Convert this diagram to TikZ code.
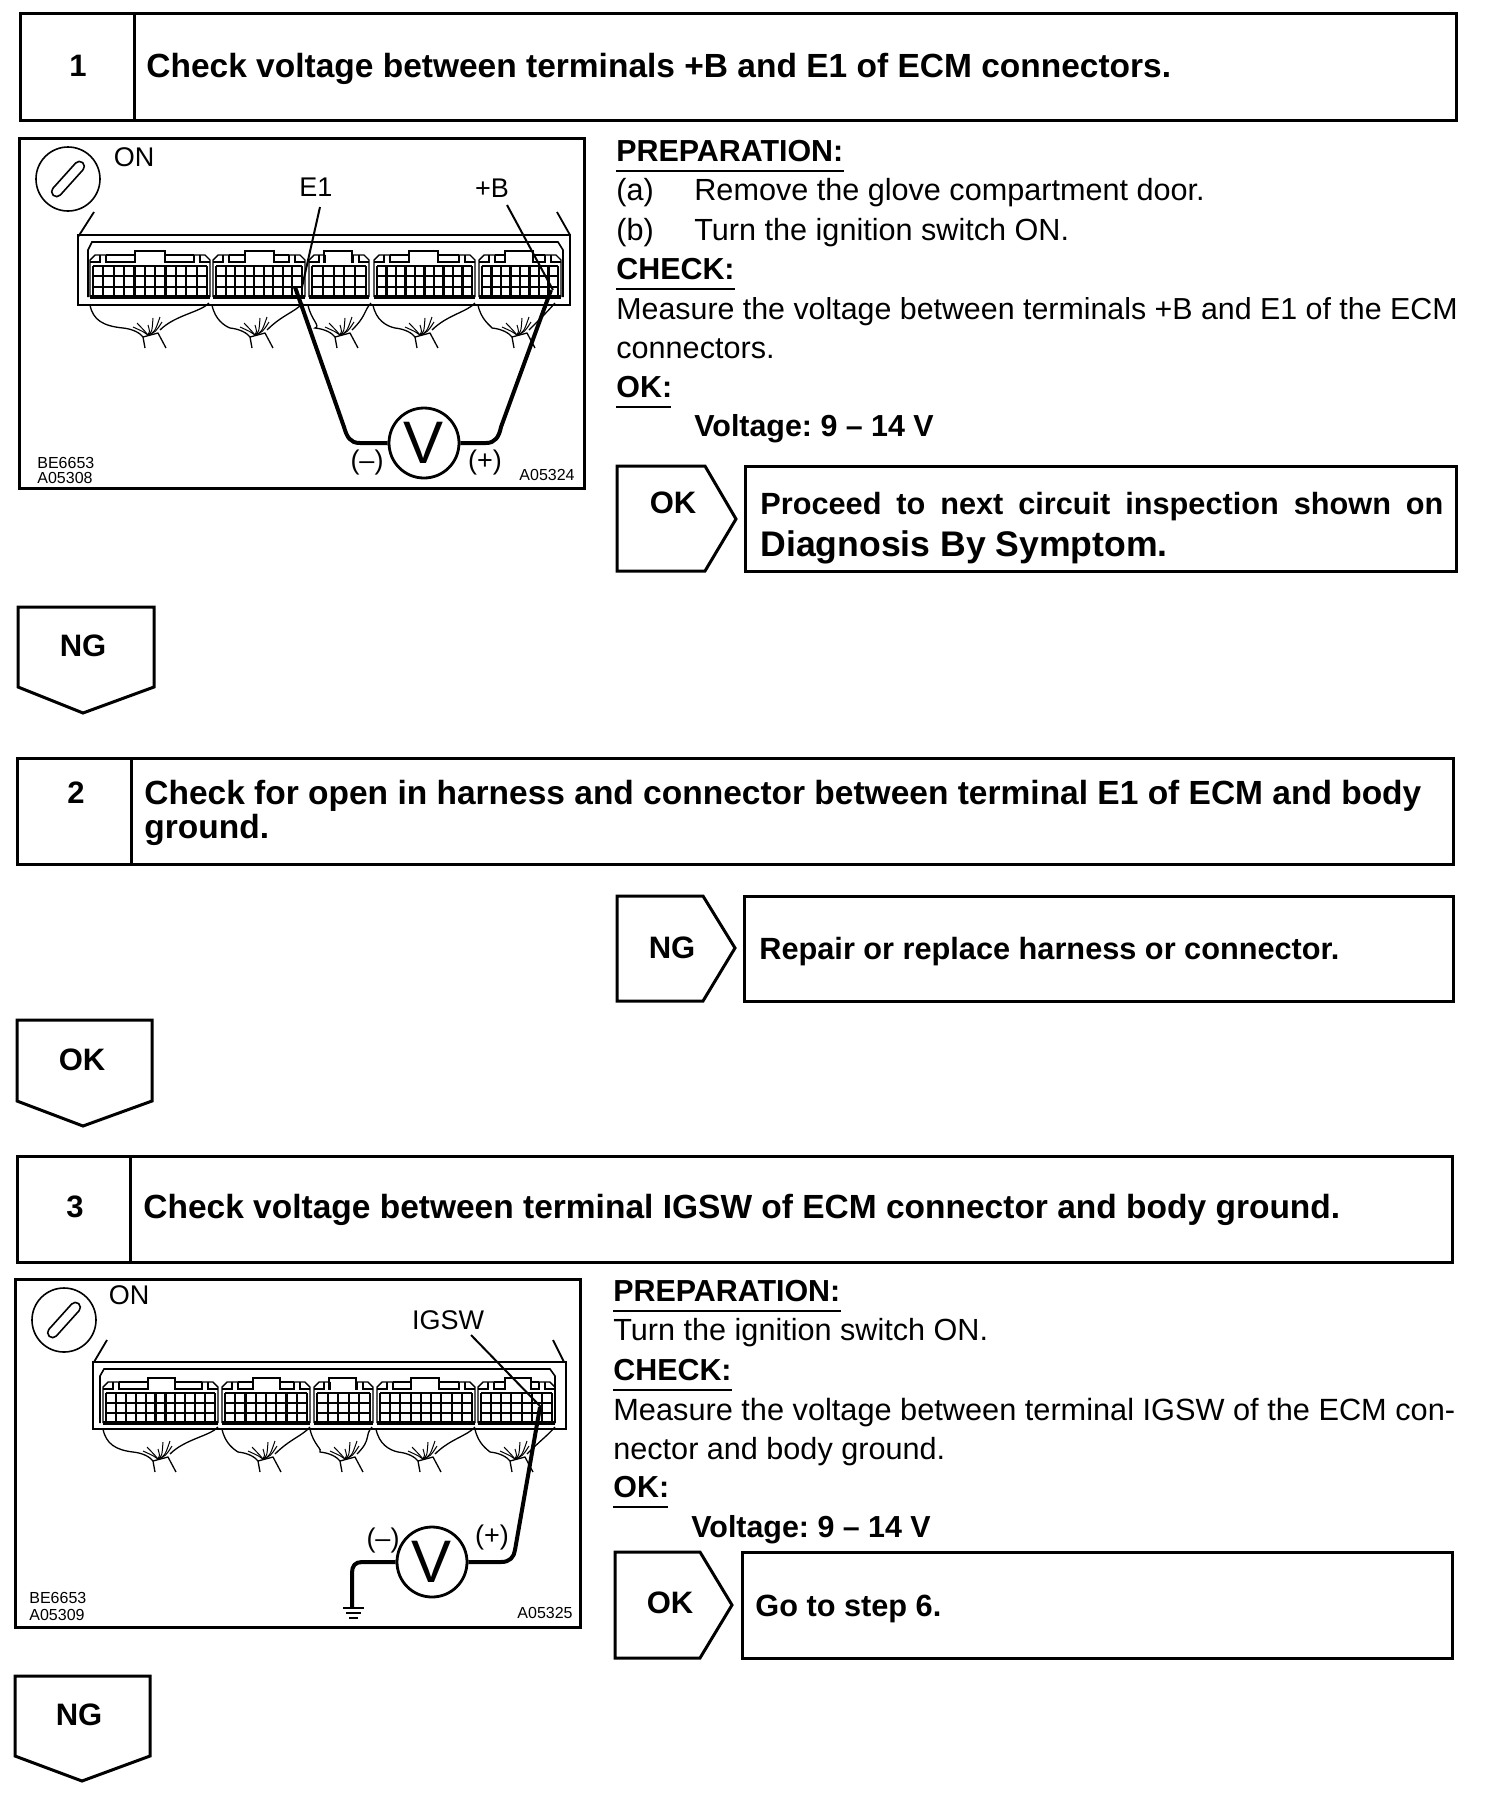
\documentclass[tikz,border=0pt]{standalone}
\usepackage{fontspec}
\setmainfont{Liberation Sans}
\frenchspacing
\tikzset{
  x=0.5pt,y=-0.5pt,
  frameline/.style={draw=black,line width=1.5pt},
  thin wire/.style={draw=black,line width=0.65pt},
  lead/.style={draw=black,line width=2pt,line join=round},
  title/.style={anchor=base west,yshift=-5.9pt,inner sep=0pt,font=\fontsize{16.75}{16.75}\selectfont\bfseries},
  answer/.style={anchor=base west,yshift=-5.5pt,inner sep=0pt,font=\fontsize{15.35}{15.35}\selectfont\bfseries},
  num/.style={inner sep=0pt,font=\fontsize{15.5}{15.5}\selectfont\bfseries},
  body/.style={anchor=base west,yshift=-5.4pt,inner sep=0pt,font=\fontsize{15.3}{15.3}\selectfont},
  bodyb/.style={anchor=base west,yshift=-5.4pt,inner sep=0pt,font=\fontsize{15.2}{15.2}\selectfont\bfseries},
  lab/.style={inner sep=0pt,font=\fontsize{13.5}{13.5}\selectfont},
  tiny code/.style={inner sep=0pt,font=\fontsize{8}{8}\selectfont},
  meter/.style={circle,draw=black,line width=1.4pt,minimum size=35pt,inner sep=0pt,font=\fontsize{30}{30}\selectfont},
}
% ECM block: left, right, top, bottom, tabLeft, tabRight
\newcommand{\ecmblock}[6]{%
  \draw[line width=0.7pt] (#1,#4) -- (#1,{#3+5}) -- ({#1+5},#3) -- ({#1+16},#3);
  \draw[line width=0.7pt] (#2,#4) -- (#2,{#3+5}) -- ({#2-5},#3) -- ({#2-16},#3);
  \draw[line width=1pt] (#1,{#3+7}) -- ({#1+10},{#3+7}) -- ({#1+10},#3);
  \draw[line width=1pt] (#2,{#3+7}) -- ({#2-10},{#3+7}) -- ({#2-10},#3);
  \draw[line width=1.2pt] ({#1+16},#3) -- ({#1+16},{#3+7}) -- (#5,{#3+7}) -- (#5,{#3-4}) -- (#6,{#3-4}) -- (#6,{#3+7}) -- ({#2-16},{#3+7}) -- ({#2-16},#3);
  \draw[line width=0.7pt] ({#1+16},#3) -- (#5,#3) (#6,#3) -- ({#2-16},#3);
  \pgfmathtruncatemacro{\ncol}{round((#2-#1-6)/10)}
  \pgfmathsetmacro{\cellw}{(#2-#1-6)/\ncol}
  \pgfmathsetmacro{\rowh}{(#4-#3-11)/3}
  \foreach \c in {0,...,\ncol}{
    \draw[line width=1.05pt] ({#1+3+\c*\cellw},{#3+11}) -- ({#1+3+\c*\cellw},#4);
  }
  \foreach \r in {0,1,2}{
    \draw[line width=1.05pt] ({#1+3},{#3+11+\r*\rowh}) -- ({#2-3},{#3+11+\r*\rowh});
  }
  \draw[line width=1.8pt] (#1,#4) -- (#2,#4);
}
% wires below block: xL, xR, top, fan-x
\newcommand{\ecmwires}[4]{%
  \draw[thin wire] (#1,#3) .. controls ({#1+3},{#3+15}) and ({#1+13},{#3+21}) .. ({#4-20},{#3+23}) .. controls ({#4-10},{#3+24}) and ({#4-3},{#3+28}) .. ({#4},{#3+32}) -- ({#4+2},{#3+43});
  \draw[thin wire] (#2,{#3-2}) .. controls ({#2-8},{#3+7}) and ({#4+32},{#3+10}) .. ({#4+17},{#3+25});
  \draw[thin wire] ({#4},{#3+32}) -- ({#4+15},{#3+28}) -- ({#4+23},{#3+43});
  \foreach \a/\b in {-10/22,-6/18,5/20,10/13,17/12,19/17}{
    \draw[line width=0.5pt] ({#4+5},{#3+30}) .. controls ({#4+5+0.4*\a},{#3+27}) .. ({#4+\a},{#3+\b});
  }
}
\begin{document}
\begin{tikzpicture}
\useasboundingbox (0,0) rectangle (1504,1806);
\fill[white] (0,0) rectangle (1504,1806);

% ---- Step 1
\draw[frameline] (20,13) rectangle (1456,120);
\draw[frameline] (134,13) -- (134,120);
\node[num] (n1) at (78,66) {1};
\node[title] (t1) at (146,66) {Check voltage between terminals +B and E1 of ECM connectors.};

% Diagram 1
\draw[line width=1.5pt] (19,138) rectangle (584,488);
\draw[line width=0.8pt] (68,179) circle (32);
\draw[line width=0.8pt,rounded corners=2.5pt,rotate around={48:(68,179)}] (46,174) rectangle (90,184);
\node[lab] (on1) at (134,157) {ON};
\node[lab] (e1) at (316,187) {E1};
\node[lab] (b1) at (492,188) {+B};
\draw[line width=0.9pt] (94,212) -- (78,237);
\draw[line width=0.9pt] (557,212) -- (570,235);
\draw[line width=1.1pt] (78,305) -- (78,235) -- (570,235) -- (570,305) -- cycle;
\draw[line width=0.8pt] (88,297) -- (88,250) -- (92,242) -- (558,242) -- (563,250) -- (563,297);
\ecmblock{90}{210}{255}{297}{135}{165}
\ecmblock{213}{305}{255}{297}{245}{274}
\ecmblock{309}{369}{255}{297}{324}{352}
\ecmblock{374}{475}{255}{297}{409}{438}
\ecmblock{479}{561}{255}{297}{505}{533}
\ecmwires{90}{209}{305}{143}
\ecmwires{212}{303}{305}{250}
\ecmwires{308}{371}{305}{335}
\ecmwires{373}{475}{305}{415}
\ecmwires{478}{555}{305}{512}
\draw[line width=1pt] (320,207) -- (302,287);
\draw[line width=1pt] (507,205) -- (553,290);
\node[meter] (v1) at (424,443) {V};
\coordinate (p1a) at (295,287);
\coordinate (p1b) at (551,290);
\draw[lead] (v1.west) -- (360,443) .. controls (350,443) and (347,437) .. (344,427) -- (p1a);
\draw[lead] (v1.east) -- (486,443) .. controls (495,443) and (499,437) .. (501,427) -- (p1b);
\node[lab] (m1) at (367,462) {(--)};
\node[lab] (p1) at (485,462) {(+)};
\node[tiny code,anchor=west] (c1a) at (37,463) {BE6653};
\node[tiny code,anchor=west] (c1b) at (37,478) {A05308};
\node[tiny code,anchor=east] (c1c) at (575,475) {A05324};

% Text 1
\node[bodyb] (h1a) at (616,151) {PREPARATION:};
\draw[line width=0.7pt] (616,171) -- (844,171);
\node[body] (l1a) at (616,190) {(a)};
\node[body] (l1ax) at (694,190) {Remove the glove compartment door.};
\node[body] (l1b) at (616,230) {(b)};
\node[body] (l1bx) at (694,230) {Turn the ignition switch ON.};
\node[bodyb] (h1b) at (616,269) {CHECK:};
\draw[line width=0.7pt] (616,289) -- (735,289);
\node[body,font=\fontsize{15.18}{15.18}\selectfont] (l1c) at (616,309) {Measure the voltage between terminals +B and E1 of the ECM};
\node[body] (l1d) at (616,348) {connectors.};
\node[bodyb] (h1c) at (616,387) {OK:};
\draw[line width=0.7pt] (616,407) -- (671,407);
\node[bodyb] (l1e) at (694,426) {Voltage: 9 -- 14 V};

\draw[frameline] (617,466) -- (705,466) -- (736,519) -- (705,571) -- (617,571) -- cycle;
\node[num] (ok1) at (673,503) {OK};
\draw[frameline] (745,466) rectangle (1456,571);
\node[answer] (r1a) at (760,503) {\makebox[341.5pt][s]{Proceed to next circuit inspection shown on}};
\node[answer,yshift=-0.6pt,font=\fontsize{17.8}{17.8}\selectfont\bfseries] (r1b) at (760,544) {Diagnosis By Symptom.};

\draw[frameline] (18,607) -- (154,607) -- (154,687) -- (83,713) -- (18,687) -- cycle;
\node[num] (ng1) at (83,646) {NG};

% ---- Step 2
\draw[frameline] (17,758) rectangle (1453,864);
\draw[frameline] (131,758) -- (131,864);
\node[num] (n2) at (76,793) {2};
\node[title] (t2a) at (144,793) {Check for open in harness and connector between terminal E1 of ECM and body};
\node[title] (t2b) at (144,827) {ground.};

\draw[frameline] (617,896) -- (703,896) -- (735,948) -- (703,1001) -- (617,1001) -- cycle;
\node[num] (ng2) at (672,948) {NG};
\draw[frameline] (744,896) rectangle (1453,1001);
\node[answer] (r2) at (759,948) {Repair or replace harness or connector.};

\draw[frameline] (17,1020) -- (152,1020) -- (152,1101) -- (83,1126) -- (17,1101) -- cycle;
\node[num] (ok2) at (82,1060) {OK};

% ---- Step 3
\draw[frameline] (17,1156) rectangle (1452,1262);
\draw[frameline] (130,1156) -- (130,1262);
\node[num] (n3) at (75,1207) {3};
\node[title] (t3) at (143,1207) {Check voltage between terminal IGSW of ECM connector and body ground.};

% Diagram 2
\draw[line width=1.5pt] (15,1279) rectangle (580,1627);
\draw[line width=0.8pt] (64,1320) circle (32);
\draw[line width=0.8pt,rounded corners=2.5pt,rotate around={48:(64,1320)}] (42,1315) rectangle (86,1325);
\node[lab] (on2) at (129,1295) {ON};
\node[lab] (ig) at (448,1320) {IGSW};
\draw[line width=0.9pt] (107,1340) -- (94,1362);
\draw[line width=0.9pt] (553,1340) -- (564,1362);
\draw[line width=0.8pt] (93,1429) -- (93,1362) -- (566,1362) -- (566,1429) -- cycle;
\draw[line width=0.8pt] (100,1423) -- (100,1376) -- (104,1369) -- (550,1369) -- (555,1376) -- (555,1423);
\ecmblock{103}{218}{1382}{1423}{148}{175}
\ecmblock{222}{310}{1382}{1423}{253}{280}
\ecmblock{314}{373}{1382}{1423}{329}{356}
\ecmblock{377}{475}{1382}{1423}{411}{439}
\ecmblock{478}{555}{1382}{1423}{505}{531}
\ecmwires{103}{218}{1429}{153}
\ecmwires{222}{310}{1429}{258}
\ecmwires{310}{372}{1429}{340}
\ecmwires{376}{475}{1429}{418}
\ecmwires{475}{555}{1429}{510}
\draw[line width=1pt] (471,1335) -- (541,1407);
\node[meter] (v2) at (432,1562) {V};
\coordinate (p2a) at (540,1407);
\coordinate (g2) at (352,1608);
\draw[lead] (v2.east) -- (501,1562) .. controls (510,1562) and (514,1557) .. (515,1550) -- (p2a);
\draw[lead] (v2.west) -- (362,1562) .. controls (355,1562) and (352,1566) .. (352,1573) -- (g2);
\draw[line width=1pt] (343,1608) -- (364,1608) (346,1613) -- (361,1613) (349,1618) -- (358,1618);
\node[lab] (m2) at (383,1540) {(--)};
\node[lab] (p2) at (492,1537) {(+)};
\node[tiny code,anchor=west] (c2a) at (29,1598) {BE6653};
\node[tiny code,anchor=west] (c2b) at (29,1615) {A05309};
\node[tiny code,anchor=east] (c2c) at (573,1613) {A05325};

% Text 3
\node[bodyb] (h3a) at (613,1291) {PREPARATION:};
\draw[line width=0.7pt] (613,1311) -- (841,1311);
\node[body] (l3a) at (613,1330) {Turn the ignition switch ON.};
\node[bodyb] (h3b) at (613,1370) {CHECK:};
\draw[line width=0.7pt] (613,1390) -- (732,1390);
\node[body,font=\fontsize{15.36}{15.36}\selectfont] (l3b) at (613,1410) {Measure the voltage between terminal IGSW of the ECM con-};
\node[body] (l3c) at (613,1449) {nector and body ground.};
\node[bodyb] (h3c) at (613,1487) {OK:};
\draw[line width=0.7pt] (613,1507) -- (668,1507);
\node[bodyb] (l3d) at (691,1527) {Voltage: 9 -- 14 V};

\draw[frameline] (615,1552) -- (700,1552) -- (732,1605) -- (700,1658) -- (615,1658) -- cycle;
\node[num] (ok3) at (670,1603) {OK};
\draw[frameline] (742,1552) rectangle (1452,1658);
\node[answer] (r3) at (755,1605) {Go to step 6.};

\draw[frameline] (15,1676) -- (150,1676) -- (150,1756) -- (82,1781) -- (15,1756) -- cycle;
\node[num] (ng3) at (79,1715) {NG};
\end{tikzpicture}
\end{document}
